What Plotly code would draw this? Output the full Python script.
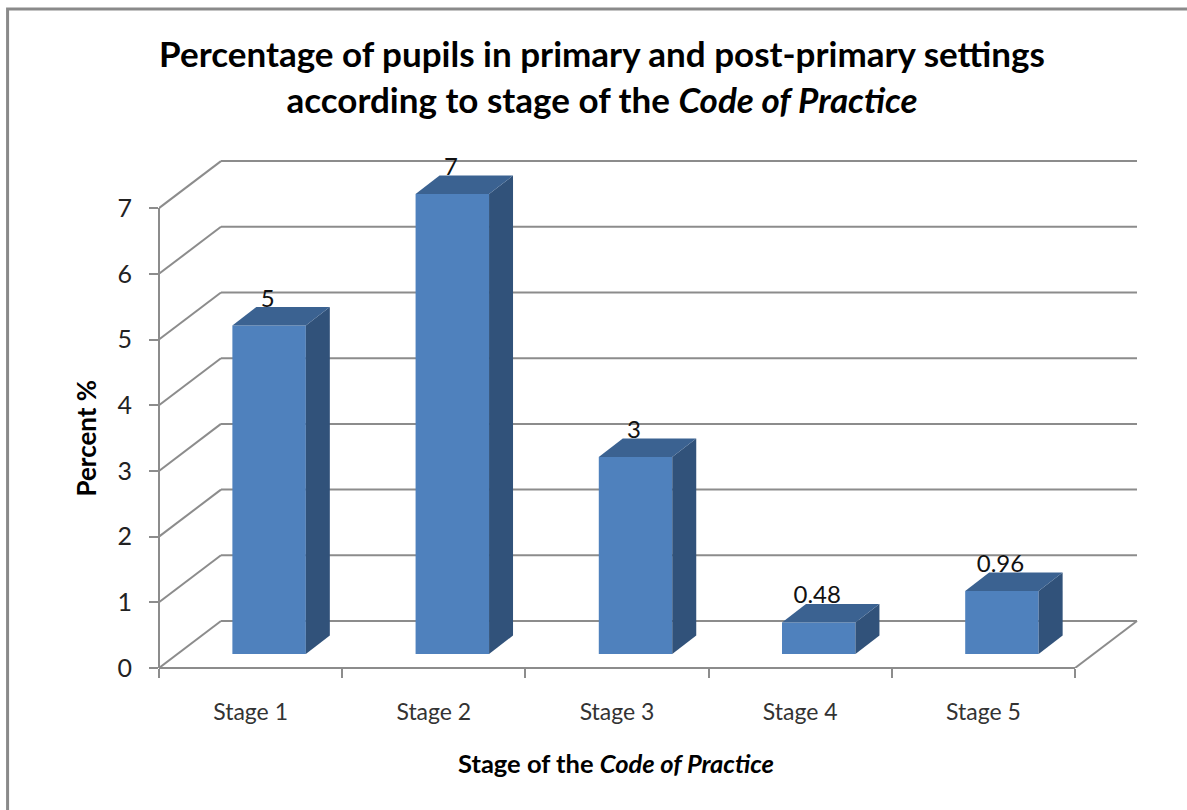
import plotly.graph_objects as go

categories = ["Stage 1", "Stage 2", "Stage 3", "Stage 4", "Stage 5"]
values = [5, 7, 3, 0.48, 0.96]
value_labels = ["5", "7", "3", "0.48", "0.96"]
y_ticks = [0, 1, 2, 3, 4, 5, 6, 7]

W, H = 1187, 810
LEFT, RIGHT_PX, TOP_PX, BOTTOM_PX = 158.5, 1140, 130, 668
UX = 183.3   # px per category
UY = 65.7    # px per percent
X_MAX = (RIGHT_PX - LEFT) / UX
Y_MAX = (BOTTOM_PX - TOP_PX) / UY

WALL_DX, WALL_DY = 62 / UX, 47 / UY      # depth of the chart floor
BAR_DX, BAR_DY = 24 / UX, 18.5 / UY      # depth of a bar
BAR_W = 73.5 / UX
BAR_SHIFT = 0.101
BAR_LIFT = 14 / UY

BLUE, SIDE, TOPC = "#4f81bd", "#31527a", "#3b6291"
GRID = "#8c8c8c"
FONT = "Lato"

centers = [i + 0.5 + BAR_SHIFT for i in range(len(categories))]


def px_x(p):
    return (p - LEFT) / (RIGHT_PX - LEFT)


def px_y(p):
    return (BOTTOM_PX - p) / (BOTTOM_PX - TOP_PX)


shapes = []


def line(x0, y0, x1, y1, xref="x", yref="y"):
    shapes.append(dict(type="line", xref=xref, yref=yref, x0=x0, y0=y0, x1=x1, y1=y1,
                       layer="below", line=dict(color=GRID, width=2)))


n = len(categories)
for v in y_ticks:
    line(0, v, WALL_DX, v + WALL_DY)
    line(WALL_DX, v + WALL_DY, n + WALL_DX, v + WALL_DY)
line(0, 0, 0, y_ticks[-1], xref="paper")
line(0, 0, n, 0, yref="paper")
line(n, 0, n + WALL_DX, WALL_DY)

# outer chart frame (open towards the right and bottom of the page)
shapes.append(dict(type="path", xref="paper", yref="paper",
                   path=f"M {px_x(7)} {px_y(815)} L {px_x(7)} {px_y(9)} L {px_x(1192)} {px_y(9)}",
                   line=dict(color="#8a8a8a", width=3)))

fig = go.Figure()
fig.add_trace(go.Bar(x=centers, y=values, base=[BAR_LIFT] * n, width=BAR_W,
                     marker=dict(color=BLUE, line=dict(width=0)), showlegend=False))

for c, v in zip(centers, values):
    l, r = c - BAR_W / 2, c + BAR_W / 2
    b, t = BAR_LIFT, BAR_LIFT + v
    fig.add_trace(go.Scatter(x=[r, r + BAR_DX, r + BAR_DX, r, r],
                             y=[b, b + BAR_DY, t + BAR_DY, t, b],
                             mode="lines", fill="toself", fillcolor=SIDE,
                             line=dict(width=0), showlegend=False))
    fig.add_trace(go.Scatter(x=[l, l + BAR_DX, r + BAR_DX, r, l],
                             y=[t, t + BAR_DY, t + BAR_DY, t, t],
                             mode="lines", fill="toself", fillcolor=TOPC,
                             line=dict(width=0), showlegend=False))

fig.add_trace(go.Scatter(x=[c - 0.008 for c in centers],
                         y=[BAR_LIFT + v + 25 / UY for v in values],
                         mode="text", text=value_labels, textposition="middle center",
                         textfont=dict(family=FONT, size=24, color="#111111"),
                         showlegend=False))

annotations = [
    dict(text="<b>Percent %</b>", xref="paper", yref="paper", x=px_x(85), y=px_y(438),
         xanchor="center", yanchor="middle", textangle=-90, showarrow=False,
         font=dict(family=FONT, size=26, color="#000000")),
    dict(text="<b>Stage of the <i>Code of Practice</i></b>", xref="paper", yref="paper",
         x=px_x(616), y=px_y(763), xanchor="center", yanchor="middle", showarrow=False,
         font=dict(family=FONT, size=25.5, color="#000000")),
]

fig.update_layout(
    width=W, height=H, autosize=False,
    margin=dict(l=LEFT, r=W - RIGHT_PX, t=TOP_PX, b=H - BOTTOM_PX, pad=0),
    paper_bgcolor="white", plot_bgcolor="white", shapes=shapes, annotations=annotations,
    showlegend=False,
    title=dict(text="Percentage of pupils in primary and post-primary settings<br>"
                    "according to stage of the <i>Code of Practice</i>",
               x=602 / W, xanchor="center", xref="container", y=1 - 67 / H, yanchor="top",
               font=dict(family=FONT, size=35, color="#000000", weight="bold")),
    xaxis=dict(range=[0, X_MAX], tickmode="array",
               tickvals=[i + 0.5 for i in range(n)], ticktext=categories,
               ticks="", showgrid=False, zeroline=False, showline=False, ticklabelstandoff=28,
               tickfont=dict(family=FONT, size=23, color="#333333"),
               minor=dict(tickmode="array", tickvals=list(range(n + 1)), ticks="outside",
                          ticklen=9, tickwidth=2, tickcolor=GRID, showgrid=False)),
    yaxis=dict(range=[0, Y_MAX], tickmode="array", tickvals=y_ticks,
               ticks="outside", ticklen=9, tickwidth=2, tickcolor=GRID,
               showgrid=False, zeroline=False, showline=False, ticklabelstandoff=12,
               tickfont=dict(family=FONT, size=25, color="#222222")),
)

fig.write_html("out.html", config=dict(displayModeBar=False),
               post_script="document.body.style.margin='0';document.body.style.overflow='hidden';")
